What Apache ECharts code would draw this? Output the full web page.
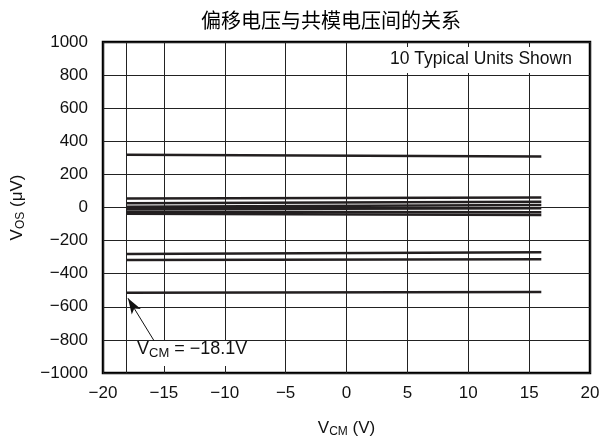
<!DOCTYPE html>
<html>
<head>
<meta charset="utf-8">
<script src="https://cdn.jsdelivr.net/npm/echarts@6/dist/echarts.min.js"></script>
<style>html,body{margin:0;padding:0;background:#fff}#c{width:602px;height:437px}</style>
</head>
<body>
<div id="c"></div>
<script>
// Data
const vcm = [-18.1, 16];
const unit01 = [318, 308];
const unit02 = [55, 60];
const unit03 = [25, 34];
const unit04 = [5, 15];
const unit05 = [-10, -5];
const unit06 = [-25, -28];
const unit07 = [-38, -45];
const unit08 = [-281, -271];
const unit09 = [-317, -313];
const unit10 = [-515, -511];
const units = [unit01, unit02, unit03, unit04, unit05, unit06, unit07, unit08, unit09, unit10];
const xTicks = [-20, -15, -10, -5, 0, 5, 10, 15, 20];
const yTicks = [-1000, -800, -600, -400, -200, 0, 200, 400, 600, 800, 1000];
const startVcm = -18.1;
const arrowFrom = [-15.6, -830];
const arrowTo = [-17.95, -548];

const fmt = v => String(v).replace('-', '\u2212');
const FONT = '"Liberation Sans", Arial, sans-serif';

const series = units.map((u, i) => ({
  type: 'line',
  data: vcm.map((x, k) => [x, u[k]]),
  symbol: 'none',
  lineStyle: { color: '#231f20', width: 2.5 },
  silent: true,
  z: 3
}));
series[0].markLine = {
  silent: true,
  symbol: 'none',
  label: { show: false },
  lineStyle: { color: '#222', width: 1, type: 'solid' },
  data: [{ xAxis: startVcm }]
};
series[1].markLine = {
  silent: true,
  symbol: ['none', 'arrow'],
  symbolSize: [8, 16],
  label: { show: false },
  lineStyle: { color: '#111', width: 1, type: 'solid' },
  data: [[{ coord: arrowFrom }, { coord: arrowTo }]]
};

const chart = echarts.init(document.getElementById('c'), null, { renderer: 'canvas' });
chart.setOption({
  animation: false,
  backgroundColor: '#fff',
  title: {
    text: '偏移电压与共模电压间的关系',
    left: 326, top: 5, textAlign: 'center',
    textStyle: { fontFamily: '"Noto Sans CJK SC", sans-serif', fontSize: 20, fontWeight: 'normal', color: '#000' }
  },
  grid: { left: 103, right: 12, top: 42, bottom: 64, show: true, borderColor: '#000', borderWidth: 2.5, containLabel: false, outerBoundsMode: 'none' },
  xAxis: {
    type: 'value', min: xTicks[0], max: xTicks[xTicks.length - 1], interval: 5,
    axisLine: { show: false },
    axisTick: { show: false },
    splitLine: { show: true, lineStyle: { color: '#222', width: 1 } },
    axisLabel: { formatter: fmt, color: '#111', fontSize: 17, fontFamily: FONT, margin: 12 },
    name: '{v|V}{s|CM}{v| (V)}', nameLocation: 'middle', nameGap: 46,
    nameTextStyle: { rich: { v: { fontSize: 17, fontFamily: FONT, color: '#111' }, s: { fontSize: 12, fontFamily: FONT, color: '#111', padding: [7, 0, 0, 0] } } }
  },
  yAxis: {
    type: 'value', min: yTicks[0], max: yTicks[yTicks.length - 1], interval: 200,
    axisLine: { show: false },
    axisTick: { show: false },
    splitLine: { show: true, lineStyle: { color: '#222', width: 1 } },
    axisLabel: { formatter: fmt, color: '#111', fontSize: 17, fontFamily: FONT, margin: 15, padding: [4, 0, 0, 0] },
    name: '{v|V}{s|OS}{v| (μV)}', nameLocation: 'middle', nameGap: 76, nameRotate: 90,
    nameTextStyle: { rich: { v: { fontSize: 17, fontFamily: FONT, color: '#111' }, s: { fontSize: 12, fontFamily: FONT, color: '#111', padding: [7, 0, 0, 0] } } }
  },
  graphic: [
    {
      type: 'rect', z: 10, shape: { x: 386, y: 47, width: 201, height: 26 },
      style: { fill: '#fff' }
    },
    {
      type: 'text', z: 11, left: 390, top: 50,
      style: { text: '10 Typical Units Shown', font: '17.5px "Liberation Sans", Arial, sans-serif', fill: '#111' }
    },
    {
      type: 'rect', z: 10, shape: { x: 134, y: 341, width: 118, height: 25 },
      style: { fill: '#fff' }
    },
    {
      type: 'text', z: 11, left: 137, top: 340,
      style: {
        text: '{v|V}{s|CM}{v| = \u221218.1V}',
        rich: {
          v: { font: '18px "Liberation Sans", Arial, sans-serif', fill: '#111' },
          s: { font: '13px "Liberation Sans", Arial, sans-serif', fill: '#111', padding: [8, 0, 0, 0] }
        }
      }
    }
  ],
  series: series
});
</script>
</body>
</html>
